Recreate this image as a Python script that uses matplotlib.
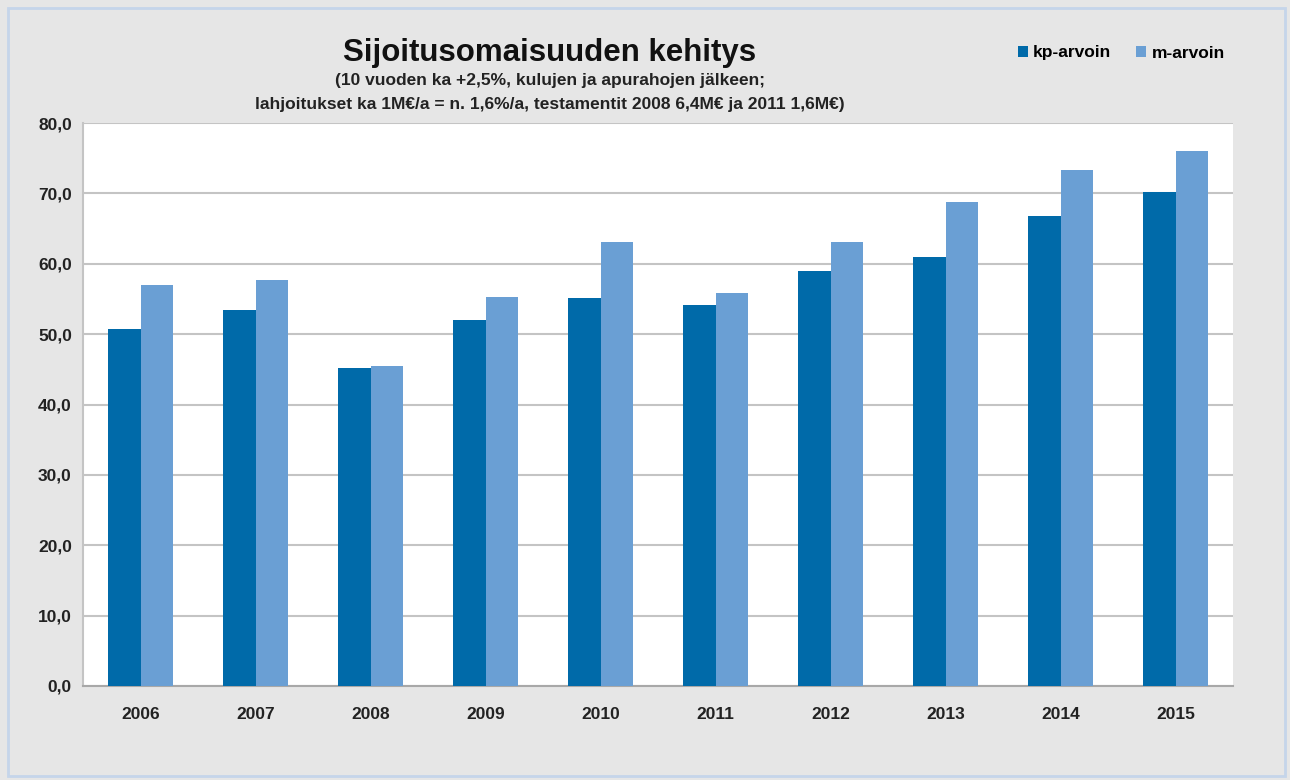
import numpy as np
import matplotlib
matplotlib.use("Agg")
import matplotlib.pyplot as plt
from matplotlib.patches import Rectangle

years = ["2006", "2007", "2008", "2009", "2010", "2011", "2012", "2013", "2014", "2015"]
kp_arvoin = [50.7, 53.4, 45.2, 52.0, 55.1, 54.1, 58.9, 60.9, 66.8, 70.2]
m_arvoin = [57.0, 57.7, 45.5, 55.3, 63.1, 55.8, 63.1, 68.8, 73.3, 76.0]
series_names = ["kp-arvoin", "m-arvoin"]

plt.rcParams['font.family'] = ['Liberation Sans', 'DejaVu Sans']

bg = "#e6e6e6"
c_kp = "#006aa9"
c_m = "#6a9fd4"

fig = plt.figure(figsize=(12.9, 7.8), dpi=100, facecolor=bg)
# plot area in pixels: x 83..1233, y 123..686
W, H = 1290, 780
ax = fig.add_axes([83 / W, 1 - 686 / H, 1150 / W, 563 / H])
ax.set_facecolor("white")

x = np.arange(len(years))
bw = 1 / 3.5
ax.bar(x - bw / 2, kp_arvoin, bw, color=c_kp, label=series_names[0], zorder=3)
ax.bar(x + bw / 2, m_arvoin, bw, color=c_m, label=series_names[1], zorder=3)

ax.set_xlim(-0.5, len(years) - 0.5)
ax.set_ylim(0, 80)
ax.set_yticks(np.arange(0, 81, 10))
ax.set_yticklabels([f"{v:.1f}".replace(".", ",") for v in np.arange(0, 81, 10)],
                   fontsize=12.5, fontweight="bold", color="#222222")
ax.set_xticks(x)
ax.set_xticklabels(years, fontsize=12.5, fontweight="bold", color="#222222")
ax.tick_params(axis="x", length=0, pad=15)
ax.tick_params(axis="y", length=0, pad=8)
ax.yaxis.grid(True, color="#c4c4c4", linewidth=1.5, zorder=0)
for s in ["top", "right"]:
    ax.spines[s].set_visible(False)
ax.spines["left"].set_color("#c4c4c4")
ax.spines["left"].set_linewidth(1.5)
ax.spines["bottom"].set_color("#a8a8a8")
ax.spines["bottom"].set_linewidth(1.5)

# outer light-blue frame
fig.patches.append(Rectangle((8 / W, 4 / H), 1277 / W, 768 / H, transform=fig.transFigure,
                             fill=False, edgecolor="#c5d5ea", linewidth=2))

fig.text(550 / W, 1 - 53 / H, "Sijoitusomaisuuden kehitys", ha="center", va="center",
         fontsize=22.5, fontweight="bold", color="#111111")
fig.text(550 / W, 1 - 81 / H, "(10 vuoden ka +2,5%, kulujen ja apurahojen jälkeen;",
         ha="center", va="center", fontsize=12.5, fontweight="bold", color="#222222")
fig.text(550 / W, 1 - 104 / H,
         "lahjoitukset ka 1M€/a = n. 1,6%/a, testamentit 2008 6,4M€ ja 2011 1,6M€)",
         ha="center", va="center", fontsize=12.5, fontweight="bold", color="#222222")

ax.legend(loc="center left", bbox_to_anchor=(1002 / W, 1 - 53 / H), bbox_transform=fig.transFigure,
          ncol=2, frameon=False, handlelength=0.6, handleheight=0.6, handletextpad=0.3,
          columnspacing=1.4, prop={"size": 12.5, "weight": "bold"})

fig.savefig("out.png", dpi=100, facecolor=bg)
